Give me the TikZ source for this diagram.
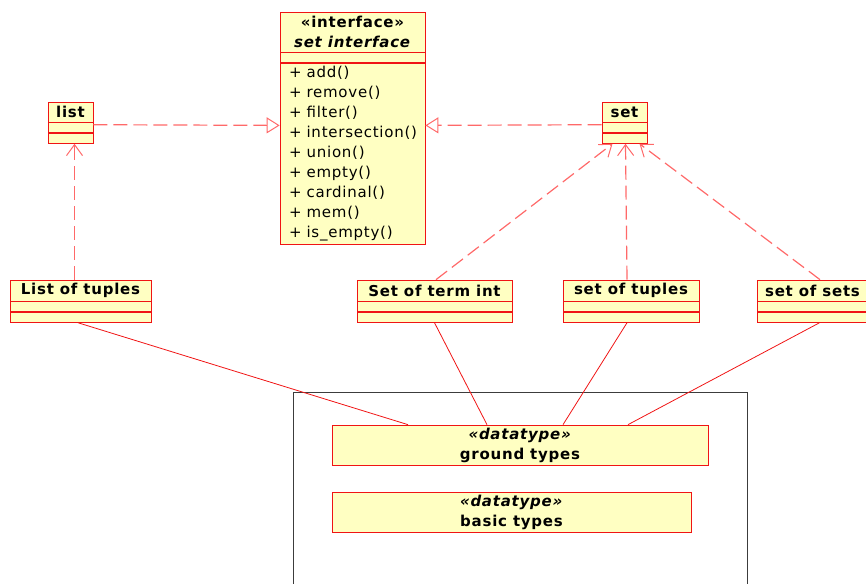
\documentclass[tikz,border=0pt]{standalone}
\usepackage{fontspec}
\setmainfont{DejaVu Sans}[LetterSpace=5]
\usetikzlibrary{arrows.meta,calc}
\definecolor{umlfill}{RGB}{255,255,194}
\definecolor{umlline}{RGB}{240,20,20}
\definecolor{dashline}{RGB}{255,105,105}
\definecolor{pkgline}{RGB}{60,60,60}
\tikzset{
  umlbox/.style={draw=umlline, fill=umlfill, line width=0.7pt, inner sep=0pt,
    font=\fontsize{15}{20}\selectfont},
  clhead/.style={umlbox, font=\fontsize{15}{20}\selectfont\bfseries, align=center},
  clpart/.style={umlbox, minimum height=10pt},
  realize/.style={draw=dashline, line width=1.2pt, dash pattern=on 14pt off 6pt,
    -{Triangle[open, length=13pt, width=16pt, fill=white, line width=1pt]}},
  depend/.style={draw=dashline, line width=1.2pt, dash pattern=on 14pt off 6pt,
    -{Straight Barb[length=11pt, width=16pt, line width=1pt]}},
  assoc/.style={draw=umlline, line width=0.8pt},
  frameline/.style={draw=pkgline, line width=1pt},
}
\begin{document}
\begin{tikzpicture}[x=1pt, y=-1pt]
\useasboundingbox (0,0) rectangle (866,583);

% package frame
\draw[frameline] (293,392) rectangle (747,620);

% interface class
\node[clhead, minimum width=145pt, minimum height=40pt] (ifh) at (352.5,32)
  {«interface»\\\textit{set interface}};
\node[clpart, minimum width=145pt, anchor=north] (ifa) at (ifh.south) {};
\node[umlbox, minimum width=145pt, minimum height=181pt, anchor=north,
      align=left, text width=127pt] (ifm) at (ifa.south)
  {+ add()\\+ remove()\\+ filter()\\+ intersection()\\+ union()\\+ empty()\\+ cardinal()\\+ mem()\\+ is\_empty()};

% list
\node[clhead, minimum width=45pt, minimum height=20pt] (list) at (70.5,112) {list};
\node[clpart, minimum width=45pt, anchor=north] (list1) at (list.south) {};
\node[clpart, minimum width=45pt, anchor=north] (list2) at (list1.south) {};

% set
\node[clhead, minimum width=45pt, minimum height=20pt] (set) at (624.5,112) {set};
\node[clpart, minimum width=45pt, anchor=north] (set1) at (set.south) {};
\node[clpart, minimum width=45pt, anchor=north] (set2) at (set1.south) {};

% lower classes
\node[clhead, minimum width=141pt, minimum height=21pt] (ltup) at (80.5,290.5) {List of tuples};
\node[clpart, minimum width=141pt, anchor=north] (ltup1) at (ltup.south) {};
\node[clpart, minimum width=141pt, anchor=north] (ltup2) at (ltup1.south) {};

\node[clhead, minimum width=155pt, minimum height=21pt] (sti) at (434.5,290.5) {Set of term int};
\node[clpart, minimum width=155pt, anchor=north] (sti1) at (sti.south) {};
\node[clpart, minimum width=155pt, anchor=north] (sti2) at (sti1.south) {};

\node[clhead, minimum width=136pt, minimum height=21pt] (stup) at (631,290.5) {set of tuples};
\node[clpart, minimum width=136pt, anchor=north] (stup1) at (stup.south) {};
\node[clpart, minimum width=136pt, anchor=north] (stup2) at (stup1.south) {};

\node[clhead, minimum width=111pt, minimum height=21pt] (ssets) at (812.5,290.5) {set of sets};
\node[clpart, minimum width=111pt, anchor=north] (ssets1) at (ssets.south) {};
\node[clpart, minimum width=111pt, anchor=north] (ssets2) at (ssets1.south) {};

% datatypes
\node[clhead, minimum width=376pt, minimum height=40pt] (gt) at (520,445)
  {\textit{«datatype»}\\ground types};
\node[clhead, minimum width=359pt, minimum height=40pt] (bt) at (511.5,512)
  {\textit{«datatype»}\\basic types};

% realizations
\draw[realize] ([yshift=3pt]list1.east) -- ([yshift=28.5pt]ifm.west);
\draw[realize] ([yshift=3pt]set1.west) -- ([yshift=28.5pt]ifm.east);

% dependencies
\draw[depend] ([xshift=-6pt]ltup.north) -- ([xshift=4pt]list2.south);
\draw[depend] ([xshift=1.5pt]sti.north) -- ([xshift=-12pt]set2.south);
\draw[depend] ([xshift=-4pt]stup.north) -- ([xshift=1pt]set2.south);
\draw[depend] ([xshift=7.5pt]ssets.north) -- ([xshift=15pt]set2.south);

% associations to ground types
\draw[assoc] ([xshift=-2.5pt]ltup2.south) -- ([xshift=-112pt]gt.north);
\draw[assoc] (sti2.south) -- ([xshift=-33pt]gt.north);
\draw[assoc] ([xshift=-4pt]stup2.south) -- ([xshift=43pt]gt.north);
\draw[assoc] ([xshift=7pt]ssets2.south) -- ([xshift=108pt]gt.north);
\end{tikzpicture}
\end{document}
